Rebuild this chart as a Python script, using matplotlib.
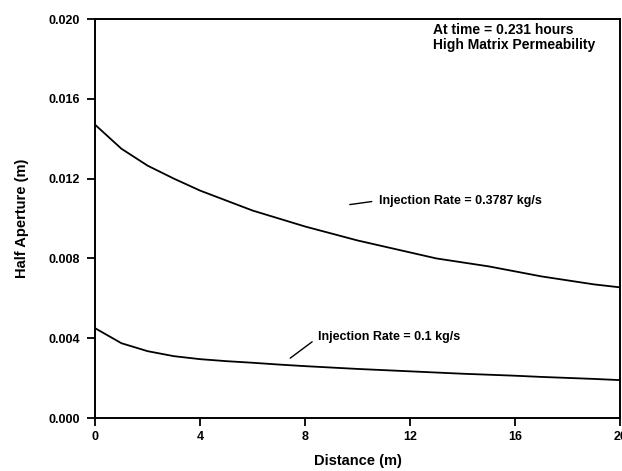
import numpy as np
import matplotlib.pyplot as plt

plt.rcParams['font.family'] = ['Liberation Sans', 'DejaVu Sans']

# distance (m)
distance = [0, 1, 2, 3, 4, 5, 6, 7, 8, 9, 10, 11, 12, 13, 14, 15, 16, 17, 18, 19, 20]
# half aperture (m) for the two injection rates
aperture_high = [0.0147, 0.0135, 0.01265, 0.0120, 0.0114, 0.0109, 0.0104, 0.0100,
                 0.0096, 0.00925, 0.0089, 0.0086, 0.0083, 0.0080, 0.0078, 0.0076,
                 0.00735, 0.0071, 0.0069, 0.0067, 0.00655]
aperture_low = [0.0045, 0.00375, 0.00335, 0.0031, 0.00295, 0.00285, 0.00277, 0.00268,
                0.0026, 0.00253, 0.00246, 0.0024, 0.00234, 0.00228, 0.00222, 0.00217,
                0.00212, 0.00206, 0.00201, 0.00196, 0.0019]

x_ticks = [0, 4, 8, 12, 16, 20]
y_ticks = [0.000, 0.004, 0.008, 0.012, 0.016, 0.020]

fig = plt.figure(figsize=(6.22, 4.71), dpi=100)
ax = fig.add_axes([0.153, 0.1125, 0.844, 0.847])

ax.plot(distance, aperture_high, color='black', lw=1.3)
ax.plot(distance, aperture_low, color='black', lw=1.3)

ax.set_xlim(0, 20)
ax.set_ylim(0, 0.020)
ax.set_xticks(x_ticks)
ax.set_xticklabels([str(t) for t in x_ticks])
ax.set_yticks(y_ticks)
ax.set_yticklabels(['%.3f' % t for t in y_ticks])
ax.tick_params(direction='out', length=6, width=1.3, labelsize=9)
ax.tick_params(axis='x', pad=3)
ax.tick_params(axis='y', pad=5)
for lab in ax.get_xticklabels() + ax.get_yticklabels():
    lab.set_fontweight('bold')
for sp in ax.spines.values():
    sp.set_linewidth(1.4)

ax.set_xlabel('Distance (m)', fontsize=10.5, fontweight='bold', labelpad=8)
ax.set_ylabel('Half Aperture (m)', fontsize=10.5, fontweight='bold', labelpad=14)

ax.text(0.644, 0.99, 'At time = 0.231 hours\nHigh Matrix Permeability',
        transform=ax.transAxes, ha='left', va='top', fontsize=10,
        fontweight='bold', linespacing=1.05)

ax.annotate('Injection Rate = 0.3787 kg/s', xy=(9.7, 0.0107), xytext=(10.8, 0.0109),
            fontsize=9, fontweight='bold', va='center', ha='left',
            arrowprops=dict(arrowstyle='-', color='black', lw=1.0, shrinkA=3, shrinkB=0,
                            relpos=(0, 0.5)))
ax.annotate('Injection Rate = 0.1 kg/s', xy=(7.43, 0.0030), xytext=(8.5, 0.00405),
            fontsize=9, fontweight='bold', va='center', ha='left',
            arrowprops=dict(arrowstyle='-', color='black', lw=1.0, shrinkA=3, shrinkB=0,
                            relpos=(0, 0.5)))

fig.savefig('out.png', dpi=100)
